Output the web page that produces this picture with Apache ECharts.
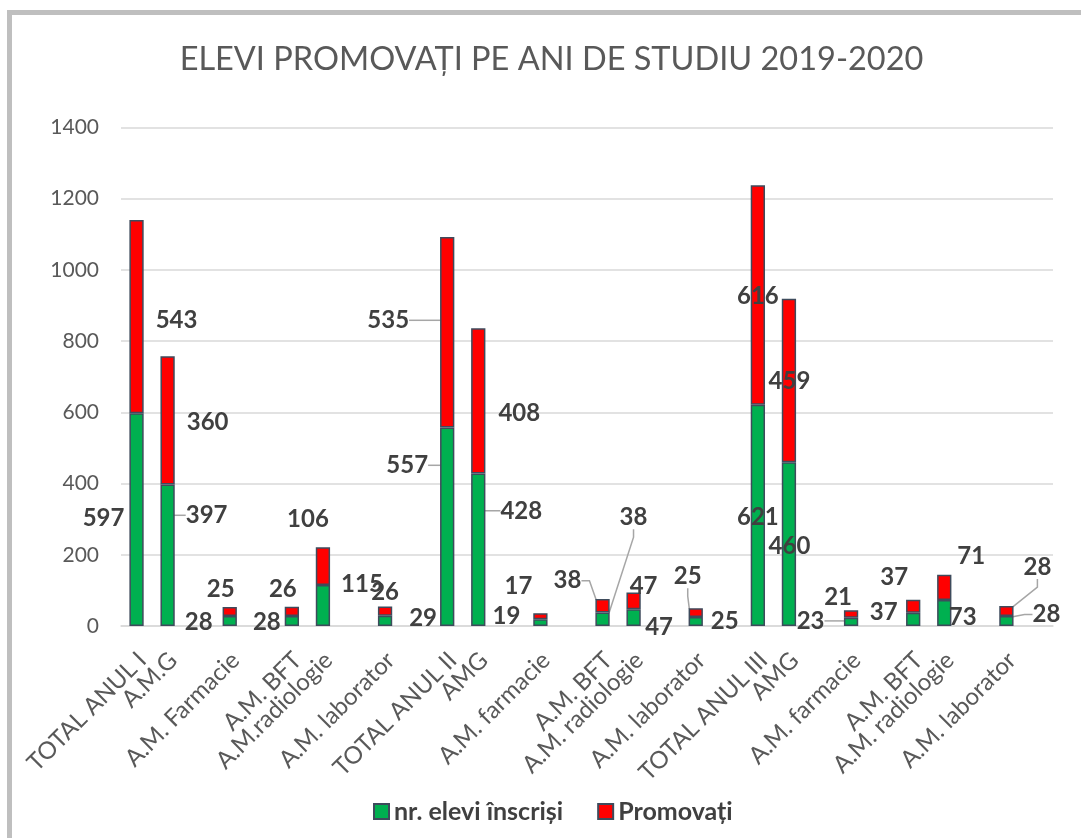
<!DOCTYPE html>
<html>
<head>
<meta charset="utf-8">
<script src="https://cdn.jsdelivr.net/npm/echarts@6/dist/echarts.min.js"></script>
<style>
  html, body { margin: 0; padding: 0; background: #ffffff; }
  #chart { width: 1081px; height: 838px; }
</style>
</head>
<body>
<div id="chart"></div>
<script>
// ---- data (blank strings / nulls are the empty rows of the source table) ----
const titleText = 'ELEVI PROMOVAȚI PE ANI DE STUDIU 2019-2020';
const categories = [
  'TOTAL ANUL I', 'A.M.G', '', 'A.M. Farmacie', '', 'A.M. BFT', 'A.M.radiologie', '', 'A.M. laborator', '',
  'TOTAL ANUL II', 'AMG', '', 'A.M. farmacie', '', 'A.M. BFT', 'A.M. radiologie', '', 'A.M. laborator', '',
  'TOTAL ANUL III', 'AMG', '', 'A.M. farmacie', '', 'A.M. BFT', 'A.M. radiologie', '', 'A.M. laborator', ''
];
const enrolled = [
  597, 397, null, 28, null, 28, 115, null, 29, null,
  557, 428, null, 19, null, 38, 47, null, 25, null,
  621, 460, null, 23, null, 37, 73, null, 28, null
];
const promoted = [
  543, 360, null, 25, null, 26, 106, null, 26, null,
  535, 408, null, 17, null, 38, 47, null, 25, null,
  616, 459, null, 21, null, 37, 71, null, 28, null
];
const seriesNames = ['nr. elevi înscriși', 'Promovați'];
const yTicks = { min: 0, max: 1400, interval: 200 };

// ---- label layout (pixel offsets of each data label from its bar segment centre) ----
const labelShift = {
  0: {
    0: [-33, -1], 1: [39, -40], 3: [-31, 1.5], 5: [-25, 1.5], 6: [39, -21.5], 8: [38, -3],
    10: [-40, -61.5], 11: [43, -39], 13: [-34, -6.5], 15: [31, -102], 16: [25.5, 10], 18: [29, -0.5],
    20: [0, 2], 21: [0.5, 1.7], 23: [-40.5, -1], 25: [-29.5, -7], 26: [18.5, 4.5], 28: [40, -6.5]
  },
  1: {
    0: [40, 4], 1: [40, 2], 3: [-9, -22.5], 5: [-9, -22.5], 6: [-15, -47], 8: [0, -19],
    10: [-59, -12], 11: [41, 12], 13: [-22, -30], 15: [-35, -25], 16: [10, -15], 18: [-8, -36.5],
    20: [0, 0.7], 21: [0.5, 1.3], 23: [-13, -16.5], 25: [-19, -28.5], 26: [27, -31.5], 28: [31, -44]
  }
};
const leaderLines = {
  0: [1, 10, 11, 15, 23, 28],
  1: [10, 15, 18, 28]
};

function buildData(values, sIdx) {
  return values.map((v, i) => {
    if (v == null) return null;
    if (leaderLines[sIdx].indexOf(i) >= 0) {
      return { value: v, labelLine: { show: true } };
    }
    return v;
  });
}

const FONT = 'Lato, "Open Sans", sans-serif';
const chart = echarts.init(document.getElementById('chart'), null, { renderer: 'canvas' });

const barStyle = (color) => ({ color: color, borderColor: '#3e4b5c', borderWidth: 1.5 });
const labelCfg = {
  show: true,
  position: 'top',
  color: '#404040',
  fontFamily: FONT,
  fontWeight: 'bold',
  fontSize: 24,
  textBorderWidth: 0
};
const labelLineCfg = {
  show: false,
  length2: 8,
  lineStyle: { color: '#a6a6a6', width: 1.5 }
};

function layoutFor(sIdx) {
  return function (params) {
    const r = params.rect;
    const s = labelShift[sIdx][params.dataIndex] || [0, 0];
    return {
      x: r.x + r.width / 2 + s[0],
      y: r.y + r.height / 2 + s[1],
      align: 'center',
      verticalAlign: 'middle'
    };
  };
}

chart.setOption({
  backgroundColor: '#ffffff',
  animation: false,
  legend: {
    data: seriesNames,
    left: 368,
    top: 794,
    itemWidth: 15,
    itemHeight: 15,
    itemGap: 34,
    icon: 'rect',
    textStyle: { fontFamily: FONT, fontSize: 25, fontWeight: 'bold', color: '#404040' }
  },
  graphic: [
    {
      type: 'rect',
      left: 7,
      top: 10,
      shape: { width: 1200, height: 1000 },
      style: { fill: 'none', stroke: '#bfbfbf', lineWidth: 5 },
      silent: true
    },
    {
      type: 'text',
      x: 551.5,
      y: 60,
      silent: true,
      style: {
        text: titleText,
        fill: '#595959',
        font: 'normal 32.5px ' + FONT,
        textAlign: 'center',
        textVerticalAlign: 'middle'
      }
    }
  ],
  grid: { left: 121, right: 28, top: 127.3, bottom: 212, containLabel: false },
  xAxis: {
    type: 'category',
    data: categories,
    axisTick: { show: false },
    axisLine: { lineStyle: { color: '#d9d9d9', width: 1.5 } },
    axisLabel: {
      interval: 0, rotate: 45, margin: 36, padding: [0, -8, 0, 0],
      color: '#595959', fontFamily: FONT, fontSize: 24
    }
  },
  yAxis: {
    type: 'value',
    min: yTicks.min, max: yTicks.max, interval: yTicks.interval,
    axisLine: { show: false },
    axisTick: { show: false },
    splitLine: { lineStyle: { color: '#d9d9d9', width: 1.5 } },
    axisLabel: {
      margin: 22, color: '#595959', fontFamily: FONT, fontSize: 21,
      formatter: (v) => String(v)
    }
  },
  series: [
    {
      name: seriesNames[0], type: 'bar', stack: 'total', barWidth: '46%',
      data: buildData(enrolled, 0),
      itemStyle: barStyle('#00b050'),
      label: labelCfg, labelLine: labelLineCfg, labelLayout: layoutFor(0), z: 2
    },
    {
      name: seriesNames[1], type: 'bar', stack: 'total', barWidth: '46%',
      data: buildData(promoted, 1),
      itemStyle: barStyle('#ff0000'),
      label: labelCfg, labelLine: labelLineCfg, labelLayout: layoutFor(1), z: 2
    }
  ]
});
</script>
</body>
</html>
